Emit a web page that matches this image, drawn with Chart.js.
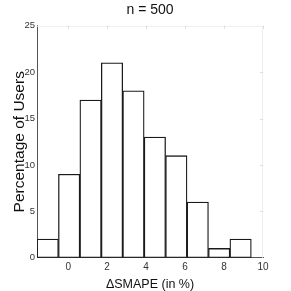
<!DOCTYPE html>
<html>
<head>
<meta charset="utf-8">
<script src="https://cdn.jsdelivr.net/npm/chart.js@4/dist/chart.umd.min.js"></script>
<style>
  html, body { margin: 0; padding: 0; background: #fff; }
  #wrap { width: 291px; height: 291px; }
</style>
</head>
<body>
<div id="wrap"><canvas id="hist" width="291" height="291"></canvas></div>
<script>
// ─── Data ───────────────────────────────────────────────────

// bin centres (ΔSMAPE, %), bin width 1.1
const binCenters = [-1.05, 0.05, 1.15, 2.25, 3.35, 4.45, 5.55, 6.65, 7.75, 8.85];
const userPercent = [2, 9, 17, 21, 18, 13, 11, 6, 1, 2];
const xTicks = [0, 2, 4, 6, 8, 10];
const yTicks = [0, 5, 10, 15, 20, 25];

const FONT = "'Liberation Sans', Arial, sans-serif";

// faint frame + small ticks on top / right edges
const frameTicks = {
  id: 'frameTicks',
  afterDraw(chart) {
    const { ctx, chartArea: a, scales } = chart;
    ctx.save();
    ctx.strokeStyle = '#eeeeee';
    ctx.lineWidth = 1;
    ctx.beginPath();
    ctx.moveTo(a.left, a.top + 0.5);
    ctx.lineTo(a.right, a.top + 0.5);
    ctx.moveTo(a.right - 0.5, a.top);
    ctx.lineTo(a.right - 0.5, a.bottom);
    ctx.stroke();
    ctx.strokeStyle = '#dddddd';
    ctx.beginPath();
    xTicks.forEach(v => {
      const x = Math.round(scales.x.getPixelForValue(v)) + 0.5;
      ctx.moveTo(x, a.top);
      ctx.lineTo(x, a.top + 3);
    });
    yTicks.slice(1, -1).forEach(v => {
      const y = Math.round(scales.y.getPixelForValue(v)) + 0.5;
      ctx.moveTo(a.right, y);
      ctx.lineTo(a.right - 3, y);
    });
    ctx.stroke();
    ctx.restore();
  },
};

new Chart(document.getElementById('hist'), {
  type: 'bar',
  data: {
    datasets: [{
      data: binCenters.map((x, i) => ({ x, y: userPercent[i] })),
      backgroundColor: '#ffffff',
      borderColor: '#1a1a1a',
      borderWidth: 1.3,
      borderSkipped: false,
      barPercentage: 1,
      categoryPercentage: 1,
    }],
  },
  options: {
    responsive: false,
    animation: false,
    layout: { padding: { left: 0, right: 28, top: 0, bottom: 0 } },
    plugins: {
      legend: { display: false },
      tooltip: { enabled: false },
      title: {
        display: true,
        text: 'n = 500',
        fullSize: false,
        color: '#111',
        font: { family: FONT, size: 14, weight: 'normal' },
        padding: { top: 2, bottom: 7 },
      },
    },
    scales: {
      x: {
        type: 'linear',
        offset: false,
        min: -1.6,
        max: 10,
        afterBuildTicks: s => { s.ticks = xTicks.map(v => ({ value: v })); },
        afterFit: s => { s.height = 33.3; },
        grid: { display: false, drawTicks: false, offset: false },
        border: { display: true, color: '#555', width: 1 },
        ticks: { color: '#333', padding: 4, font: { family: FONT, size: 10 } },
        title: {
          display: true,
          text: 'ΔSMAPE (in %)',
          color: '#111',
          font: { family: FONT, size: 12.5, lineHeight: 1 },
          padding: { top: 0, bottom: 0 },
        },
      },
      y: {
        min: 0,
        max: 25,
        afterBuildTicks: s => { s.ticks = yTicks.map(v => ({ value: v })); },
        afterFit: s => { s.width = 37; },
        grid: { display: false, drawTicks: false },
        border: { display: true, color: '#555', width: 1 },
        ticks: { color: '#333', padding: 2, font: { family: FONT, size: 9.5 } },
        title: {
          display: true,
          text: 'Percentage of Users',
          color: '#111',
          font: { family: FONT, size: 15.5 },
          padding: { top: 10, bottom: 0 },
        },
      },
    },
  },
  plugins: [frameTicks],
});
</script>
</body>
</html>
